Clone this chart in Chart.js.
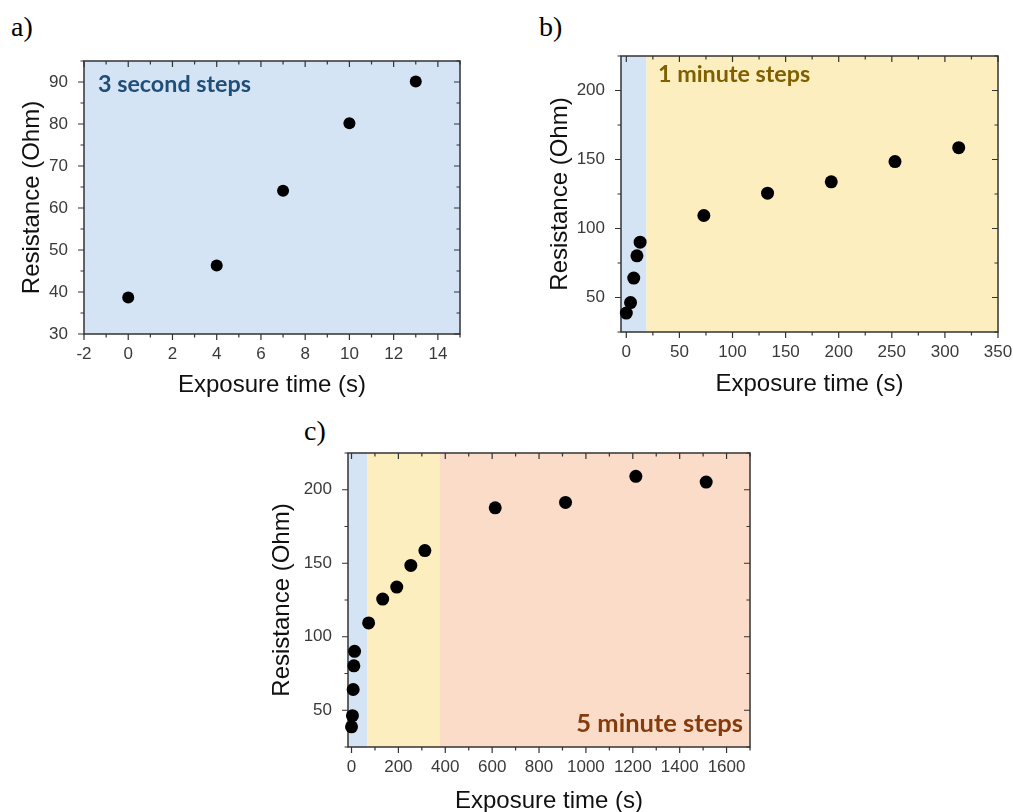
<!DOCTYPE html>
<html>
<head>
<meta charset="utf-8">
<script src="https://cdn.jsdelivr.net/npm/chart.js@4.4.1/dist/chart.umd.min.js"></script>
<style>
  body { margin: 0; background: #fff; width: 1013px; height: 812px; position: relative; overflow: hidden; }
  canvas { position: absolute; left: 0; top: 0; }
  .tag { position: absolute; font-family: "Liberation Serif", serif; font-size: 28px; line-height: 28px; color: #000; }
</style>
</head>
<body>
<div class="tag" style="left:11px;top:13px">a)</div>
<div class="tag" style="left:539px;top:13px">b)</div>
<div class="tag" style="left:304px;top:417px">c)</div>
<canvas id="chartA" width="1040" height="840"></canvas>
<canvas id="chartB" width="1040" height="840"></canvas>
<canvas id="chartC" width="1040" height="840"></canvas>
<script>
// exposure time (s) and resistance (Ohm)
const timeA = [0, 4, 7, 10, 13];
const resA = [38.7, 46.3, 64.1, 80.2, 90.1];
const timeB = [0, 4, 7, 10, 13, 73, 133, 193, 253, 313];
const resB = [38.7, 46.3, 64.1, 80.2, 90.1, 109.4, 125.6, 133.8, 148.5, 158.6];
const timeC = [0, 4, 7, 10, 13, 73, 133, 193, 253, 313, 613, 913, 1213, 1513];
const resC = [38.7, 46.3, 64.1, 80.2, 90.1, 109.4, 125.6, 133.8, 148.5, 158.6, 187.7, 191.4, 209.1, 205.2];

const xTicksA = [-2, 0, 2, 4, 6, 8, 10, 12, 14];
const yTicksA = [30, 40, 50, 60, 70, 80, 90];
const xTicksB = [0, 50, 100, 150, 200, 250, 300, 350];
const yTicksB = [50, 100, 150, 200];
const xTicksC = [0, 200, 400, 600, 800, 1000, 1200, 1400, 1600];
const yTicksC = [50, 100, 150, 200];

// step regimes (3 s, 1 min, 5 min) as x limits
const bandEdgesA = [-2, 15];
const bandEdgesB = [-5, 19, 350];
const bandEdgesC = [-15, 67, 375, 1700];

const stepLabels = ['3 second steps', '1 minute steps', '5 minute steps'];

const W = 1040, H = 840;
const bandColors = ['#d4e4f4', '#fdeebf', '#fadcc8'];
const tickFont = { family: 'Liberation Sans', size: 17 };
const titleFont = { family: 'Liberation Sans', size: 24, lineHeight: 1.2 };

function minorValues(scale) {
  const v = scale.ticks.map(t => t.value);
  const step = v[1] - v[0];
  const out = [];
  for (let m = v[0] - step / 2; m <= scale.max + 1e-9; m += step) {
    if (m >= scale.min - 1e-9) out.push(m);
  }
  return out;
}

const bandsPlugin = {
  id: 'bands',
  beforeDatasetsDraw(chart, args, opts) {
    const { ctx, chartArea: a, scales: { x } } = chart;
    ctx.save();
    for (let i = 0; i < opts.edges.length - 1; i++) {
      const x0 = Math.max(a.left, x.getPixelForValue(opts.edges[i]));
      const x1 = Math.min(a.right, x.getPixelForValue(opts.edges[i + 1]));
      ctx.fillStyle = bandColors[i];
      ctx.fillRect(x0, a.top, x1 - x0, a.bottom - a.top);
    }
    // label of the step regime
    const n = opts.note;
    ctx.font = 'bold 20px Lato';
    const size = 20 * n.width / ctx.measureText(n.text).width;
    ctx.font = 'bold ' + size.toFixed(1) + 'px Lato';
    ctx.fillStyle = n.color;
    ctx.textBaseline = 'alphabetic';
    ctx.textAlign = n.align;
    const tx = n.align === 'right' ? a.right + n.dx : a.left + n.dx;
    ctx.fillText(n.text, tx, (n.fromBottom ? a.bottom : a.top) + n.dy);
    ctx.restore();
  }
};

const framePlugin = {
  id: 'frame',
  beforeDatasetsDraw(chart) {
    const { ctx, chartArea: a, scales: { x, y } } = chart;
    ctx.save();
    ctx.strokeStyle = '#333';
    ctx.lineWidth = 1.5;
    ctx.strokeRect(a.left, a.top, a.right - a.left, a.bottom - a.top);
    ctx.lineWidth = 1.2;
    ctx.beginPath();
    const xs = [[x.ticks.map(t => t.value), 6], [minorValues(x), 3.5]];
    const ys = [[y.ticks.map(t => t.value), 6], [minorValues(y), 3.5]];
    xs.forEach(([vals, len]) => vals.forEach(v => {
      const p = x.getPixelForValue(v);
      ctx.moveTo(p, a.bottom); ctx.lineTo(p, a.bottom + len);
      ctx.moveTo(p, a.top); ctx.lineTo(p, a.top + len);
    }));
    ys.forEach(([vals, len]) => vals.forEach(v => {
      const p = y.getPixelForValue(v);
      ctx.moveTo(a.left, p); ctx.lineTo(a.left - len, p);
      ctx.moveTo(a.right, p); ctx.lineTo(a.right - len, p);
    }));
    ctx.stroke();
    ctx.restore();
  }
};

Chart.register(bandsPlugin, framePlugin);

function panel(id, d) {
  const half = titleFont.size * titleFont.lineHeight / 2;
  const axisBottom = d.xTitleY + half;
  new Chart(document.getElementById(id), {
    type: 'scatter',
    data: {
      datasets: [{
        data: d.x.map((v, i) => ({ x: v, y: d.y[i] })),
        backgroundColor: '#000',
        borderWidth: 0,
        pointRadius: d.r,
        pointHoverRadius: d.r,
        clip: false
      }]
    },
    options: {
      responsive: false,
      animation: false,
      events: [],
      layout: {
        padding: { left: d.yTitleX - half, top: d.area.top, right: W - d.area.right, bottom: H - axisBottom }
      },
      plugins: {
        legend: { display: false },
        tooltip: { enabled: false },
        bands: { edges: d.edges, note: d.note }
      },
      scales: {
        x: {
          type: 'linear',
          min: d.xRange[0],
          max: d.xRange[1],
          afterBuildTicks: s => { s.ticks = d.xTicks.map(v => ({ value: v })); },
          afterFit: s => { s.height = axisBottom - d.area.bottom; },
          grid: { display: false },
          border: { display: false },
          ticks: { font: tickFont, color: '#3a3a3a', padding: 2, maxRotation: 0, autoSkip: false, callback: v => String(v) },
          title: { display: true, text: 'Exposure time (s)', font: titleFont, color: '#111', padding: 0 }
        },
        y: {
          type: 'linear',
          min: d.yRange[0],
          max: d.yRange[1],
          afterBuildTicks: s => { s.ticks = d.yTicks.map(v => ({ value: v })); },
          afterFit: s => { s.width = d.area.left - (d.yTitleX - half); },
          grid: { display: false },
          border: { display: false },
          ticks: { font: tickFont, color: '#3a3a3a', padding: 8, callback: v => String(v) },
          title: { display: true, text: 'Resistance (Ohm)', font: titleFont, color: '#111', padding: 0 }
        }
      }
    }
  });
}

panel('chartA', {
  x: timeA, y: resA, xTicks: xTicksA, yTicks: yTicksA, edges: bandEdgesA,
  xRange: [-2, 15], yRange: [30, 95], r: 6,
  area: { left: 84, top: 61, right: 460, bottom: 334 },
  yTitleX: 32.5, xTitleY: 385,
  note: { text: stepLabels[0], color: '#1f4e79', align: 'left', dx: 14, dy: 31, width: 153 }
});

panel('chartB', {
  x: timeB, y: resB, xTicks: xTicksB, yTicks: yTicksB, edges: bandEdgesB,
  xRange: [-5, 350], yRange: [25, 225], r: 6.5,
  area: { left: 621, top: 56, right: 998, bottom: 332 },
  yTitleX: 560, xTitleY: 384,
  note: { text: stepLabels[1], color: '#7f6000', align: 'left', dx: 37, dy: 26, width: 152 }
});

panel('chartC', {
  x: timeC, y: resC, xTicks: xTicksC, yTicks: yTicksC, edges: bandEdgesC,
  xRange: [-15, 1700], yRange: [25, 225], r: 6.5,
  area: { left: 348, top: 453, right: 750, bottom: 747 },
  yTitleX: 282.5, xTitleY: 801,
  note: { text: stepLabels[2], color: '#843c0c', align: 'right', dx: -7, dy: -15, fromBottom: true, width: 167 }
});
</script>
</body>
</html>
